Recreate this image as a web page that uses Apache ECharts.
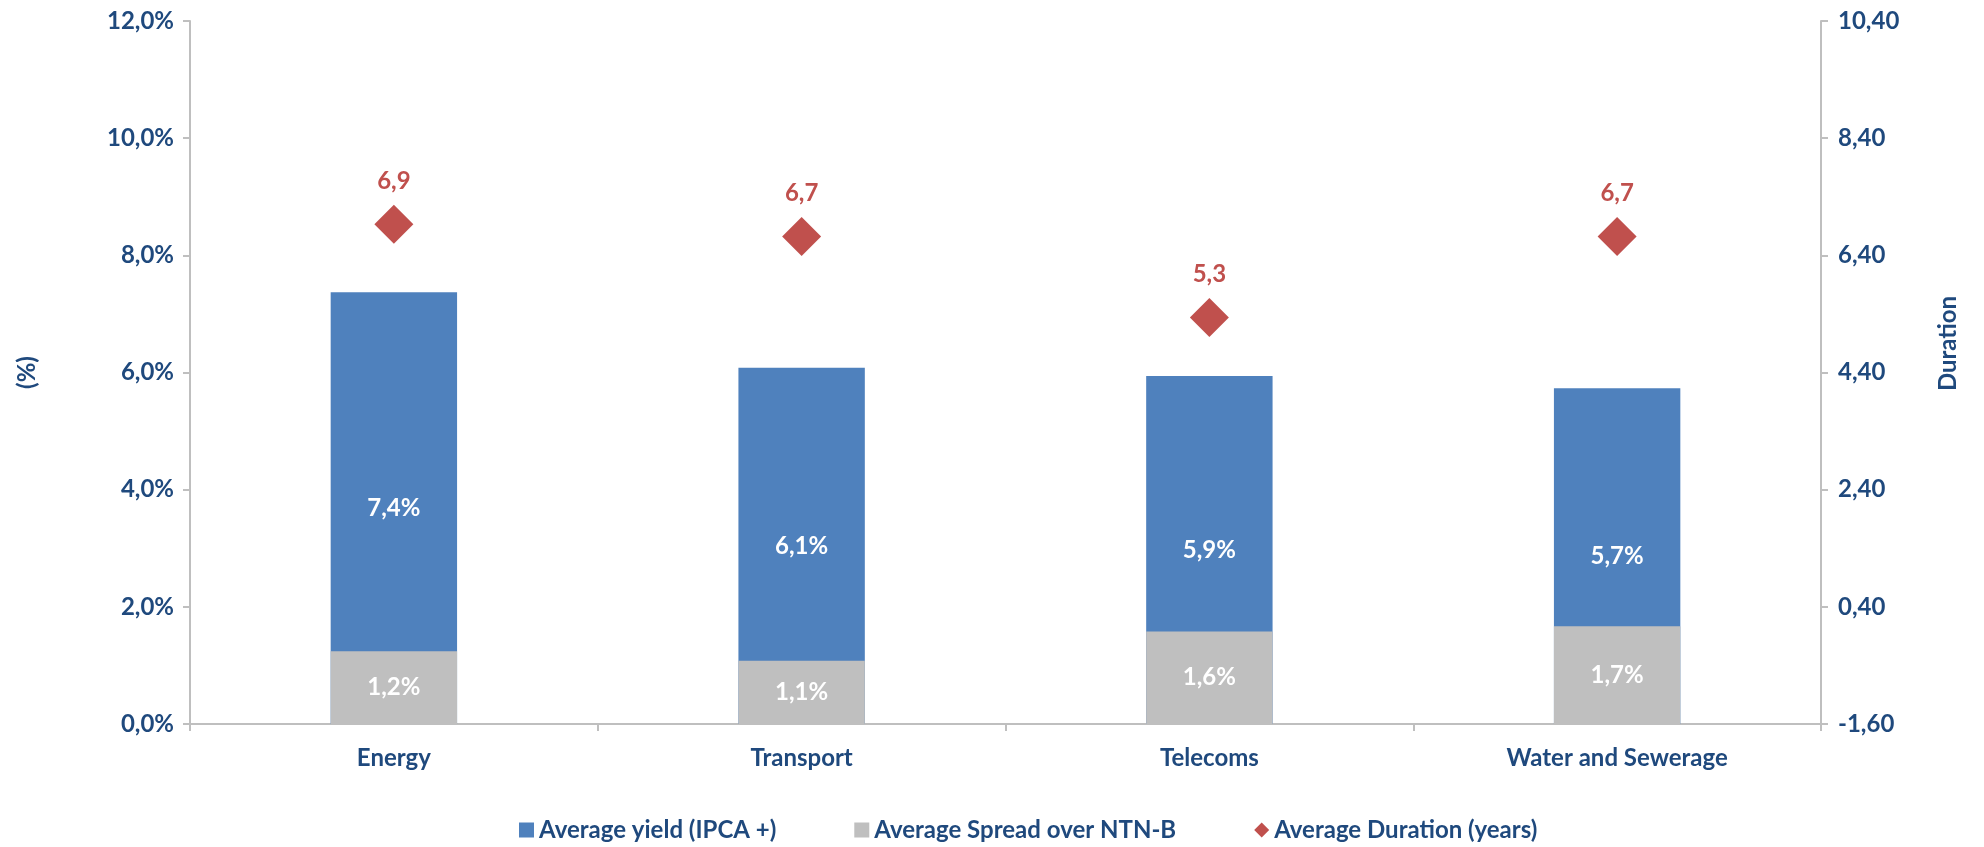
<!DOCTYPE html>
<html>
<head>
<meta charset="utf-8">
<script src="https://cdn.jsdelivr.net/npm/echarts@6/dist/echarts.min.js"></script>
<style>html,body{margin:0;padding:0;background:#fff;}#chart{width:1984px;height:847px;}</style>
</head>
<body>
<div id="chart"></div>
<script>
const categories = ['Energy', 'Transport', 'Telecoms', 'Water and Sewerage'];
const avgYield = [7.37, 6.08, 5.94, 5.73];
const avgSpread = [1.24, 1.08, 1.58, 1.67];
const avgDuration = [6.93, 6.72, 5.34, 6.72];
const seriesNames = ['Average yield (IPCA +)', 'Average Spread over NTN-B', 'Average Duration (years)'];

const FONT = 'Lato';
const NAVY = '#1F497D';
const AXIS = '#BFBFBF';
const FS = 24;
const comma = (v, d) => Number(v).toFixed(d).replace('.', ',');

const chart = echarts.init(document.getElementById('chart'));
chart.setOption({
  animation: false,
  textStyle: { fontFamily: FONT },
  grid: { left: 190, right: 163, top: 21, bottom: 123, containLabel: false },
  legend: {
    bottom: 0,
    left: 514,
    itemGap: 78,
    itemWidth: 15,
    itemHeight: 15,
    textStyle: { color: NAVY, fontFamily: FONT, fontWeight: 'bold', fontSize: FS },
    data: [
      { name: seriesNames[0], icon: 'rect' },
      { name: seriesNames[1], icon: 'rect' },
      { name: seriesNames[2], icon: 'diamond' }
    ]
  },
  xAxis: {
    type: 'category',
    data: categories,
    axisLine: { lineStyle: { color: AXIS, width: 2 } },
    axisTick: { show: true, length: 7, lineStyle: { color: AXIS, width: 2 } },
    axisLabel: { color: NAVY, fontWeight: 'bold', fontSize: FS, margin: 22 }
  },
  yAxis: [
    {
      type: 'value', min: 0, max: 12, interval: 2, position: 'left',
      name: '(%)', nameLocation: 'middle', nameGap: 151, nameRotate: 90,
      nameTextStyle: { color: NAVY, fontWeight: 'bold', fontSize: FS },
      axisLine: { show: true, lineStyle: { color: AXIS, width: 2 } },
      axisTick: { show: true, length: 7, lineStyle: { color: AXIS, width: 2 } },
      splitLine: { show: false },
      axisLabel: { color: NAVY, fontWeight: 'bold', fontSize: FS, margin: 16, formatter: v => comma(v, 1) + '%' }
    },
    {
      type: 'value', min: -1.6, max: 10.4, interval: 2, position: 'right',
      name: 'Duration', nameLocation: 'middle', nameGap: 115, nameRotate: 90,
      nameTextStyle: { color: NAVY, fontWeight: 'bold', fontSize: FS, padding: [0, 0, 0, 58] },
      axisLine: { show: true, lineStyle: { color: AXIS, width: 2 } },
      axisTick: { show: true, length: 7, lineStyle: { color: AXIS, width: 2 } },
      splitLine: { show: false },
      axisLabel: { color: NAVY, fontWeight: 'bold', fontSize: FS, margin: 17, formatter: v => comma(v, 2) }
    }
  ],
  series: [
    {
      name: seriesNames[0], type: 'bar', data: avgYield, barWidth: '31%', barGap: '-100%',
      itemStyle: { color: '#4F81BD' },
      label: { show: true, position: 'inside', color: '#fff', fontWeight: 'bold', fontSize: FS, formatter: p => comma(p.value, 1) + '%' }
    },
    {
      name: seriesNames[1], type: 'bar', data: avgSpread, barWidth: '31%', barGap: '-100%',
      itemStyle: { color: '#BFBFBF' },
      label: { show: true, position: 'inside', color: '#fff', fontWeight: 'bold', fontSize: FS, formatter: p => comma(p.value, 1) + '%' }
    },
    {
      name: seriesNames[2], type: 'scatter', yAxisIndex: 1, data: avgDuration,
      symbol: 'diamond', symbolSize: 39,
      itemStyle: { color: '#C0504D', opacity: 1 },
      label: { show: true, position: 'top', distance: 12, color: '#C0504D', fontWeight: 'bold', fontSize: FS, formatter: p => comma(p.value, 1) }
    }
  ]
});
</script>
</body>
</html>
